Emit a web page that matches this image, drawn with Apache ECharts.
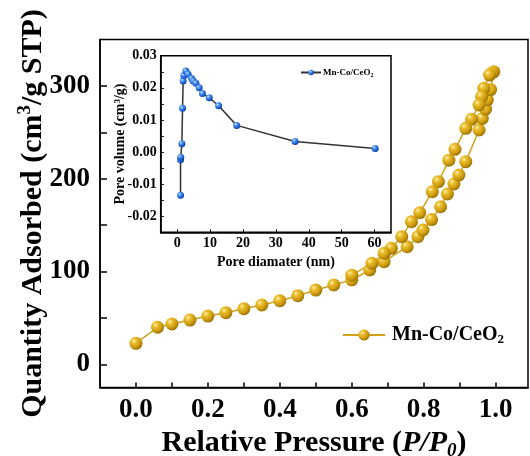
<!DOCTYPE html>
<html><head><meta charset="utf-8">
<script src="https://cdn.jsdelivr.net/npm/echarts@6/dist/echarts.min.js"></script>
<style>html,body{margin:0;padding:0;background:#fff}#c{width:530px;height:456px}</style>
</head><body><div id="c"></div>
<script>
// Adsorption branch (P/P0, quantity cm3/g STP)
const adsP = [0.0, 0.06, 0.10, 0.15, 0.20, 0.25, 0.30, 0.35, 0.40, 0.45, 0.50, 0.55, 0.60, 0.65, 0.69, 0.754, 0.784, 0.798, 0.822, 0.847, 0.866, 0.884, 0.898, 0.917, 0.954, 0.963, 0.972, 0.977, 0.986, 0.995];
const adsQ = [22.6, 39.9, 43.4, 47.7, 52.0, 55.6, 59.9, 63.9, 68.5, 73.9, 80.0, 85.5, 91.0, 101.6, 110.6, 126.7, 137.5, 144.7, 156.0, 169.8, 183.5, 194.3, 204.0, 218.3, 252.5, 265.0, 275.0, 285.0, 296.0, 315.3];
// Desorption branch
const desP = [0.99, 0.983, 0.967, 0.961, 0.954, 0.933, 0.917, 0.887, 0.870, 0.841, 0.824, 0.789, 0.766, 0.739, 0.710, 0.690, 0.656, 0.600];
const desQ = [314.0, 311.7, 297.4, 288.4, 279.4, 264.0, 254.3, 231.7, 220.0, 196.8, 186.0, 163.4, 153.7, 137.5, 125.0, 119.6, 108.8, 96.0];
// Inset: pore size distribution
const poreD = [1.03, 1.03, 1.1, 1.43, 1.64, 1.83, 2.04, 2.65, 3.35, 4.4, 4.9, 5.7, 6.7, 7.7, 9.75, 12.6, 18.1, 35.85, 60.2];
const poreV = [-0.0135, -0.0024, -0.0016, 0.0026, 0.0136, 0.0221, 0.0238, 0.0252, 0.0242, 0.0229, 0.0221, 0.0214, 0.0200, 0.0182, 0.0169, 0.0144, 0.0083, 0.0033, 0.0011];
// Ticks
const xTickValues = [0.0, 0.1, 0.2, 0.3, 0.4, 0.5, 0.6, 0.7, 0.8, 0.9, 1.0];
const xLabelValues = [0.0, 0.2, 0.4, 0.6, 0.8, 1.0];
const yTickValues = [0, 50, 100, 150, 200, 250, 300];
const yLabelValues = [0, 100, 200, 300];
const insetXLabels = [0, 10, 20, 30, 40, 50, 60];
const insetYLabels = [-0.02, -0.01, 0.0, 0.01, 0.02, 0.03];
const insetYTicks = [-0.02, -0.015, -0.01, -0.005, 0.0, 0.005, 0.01, 0.015, 0.02, 0.025, 0.03];

const FF = '"Liberation Serif", "Times New Roman", serif';
const chart = echarts.init(document.getElementById('c'), null, {renderer: 'canvas'});

const mainData = adsP.map((p, i) => [p, adsQ[i]]).concat(desP.map((p, i) => [p, desQ[i]]));
const poreData = poreD.map((d, i) => [d, poreV[i]]);

const gold = new echarts.graphic.RadialGradient(0.35, 0.32, 0.7, [
  {offset: 0, color: '#fff4c4'}, {offset: 0.25, color: '#eec232'},
  {offset: 0.7, color: '#cc9a0e'}, {offset: 1, color: '#9a7204'}]);
const blue = new echarts.graphic.RadialGradient(0.35, 0.32, 0.7, [
  {offset: 0, color: '#e6f1ff'}, {offset: 0.25, color: '#5c9ff2'},
  {offset: 0.7, color: '#1f63d6'}, {offset: 1, color: '#0e3f98'}]);

const richBig = {
  a: {fontSize: 30, fontWeight: 'bold', fontFamily: FF, color: '#000'},
  i: {fontSize: 30, fontWeight: 'bold', fontStyle: 'italic', fontFamily: FF, color: '#000'},
  s: {fontSize: 19, fontWeight: 'bold', fontStyle: 'italic', fontFamily: FF, color: '#000', verticalAlign: 'bottom', padding: [16, 0, 0, 0]},
  u: {fontSize: 19, fontWeight: 'bold', fontFamily: FF, color: '#000', verticalAlign: 'top', padding: [0, 0, 16, 0]}
};
const richSmall = {
  a: {fontSize: 14, fontWeight: 'bold', fontFamily: FF, color: '#000'},
  u: {fontSize: 9, fontWeight: 'bold', fontFamily: FF, color: '#000', verticalAlign: 'top', padding: [0, 0, 7, 0]}
};

chart.setOption({
  backgroundColor: '#fff',
  animation: false,
  grid: [
    {left: 100, top: 39.5, right: 2, bottom: 68.5, outerBoundsMode: 'none', containLabel: false, show: true, borderColor: '#000', borderWidth: 1.5, backgroundColor: 'transparent'},
    {left: 160.7, top: 55.7, width: 230.3, height: 176.6, outerBoundsMode: 'none', containLabel: false, show: true, borderColor: '#000', borderWidth: 1.5, backgroundColor: '#fff'}
  ],
  legend: [
    {data: ['Mn-Co/CeO2'], left: 337, top: 320, itemWidth: 42, itemHeight: 14, itemGap: 0,
     formatter: () => '{a|Mn-Co/CeO}{s|2}',
     textStyle: {padding: [0, 0, 0, 2], rich: {
       a: {fontSize: 20, fontWeight: 'bold', fontFamily: FF, color: '#000'},
       s: {fontSize: 13, fontWeight: 'bold', fontFamily: FF, color: '#000', verticalAlign: 'bottom', padding: [10, 0, 0, 0]}}}},
    {data: ['Mn-Co/CeO2 pore'], left: 295, top: 63, itemWidth: 20, itemHeight: 7, itemGap: 0,
     formatter: () => '{a|Mn-Co/CeO}{s|2}',
     textStyle: {padding: [0, 0, 0, -3], rich: {
       a: {fontSize: 9, fontWeight: 'bold', fontFamily: FF, color: '#000'},
       s: {fontSize: 6, fontWeight: 'bold', fontFamily: FF, color: '#000', verticalAlign: 'bottom', padding: [5, 0, 0, 0]}}}}
  ],
  xAxis: [
    {type: 'value', gridIndex: 0, min: -0.1, max: 1.09,
     name: '{a|Relative Pressure (}{i|P/P}{s|0}{a|)}', nameLocation: 'middle', nameGap: 37,
     nameTextStyle: {rich: richBig},
     axisLine: {show: true, onZero: false, lineStyle: {color: '#000', width: 1.5}},
     axisTick: {show: true, inside: true, length: 5, customValues: xTickValues, lineStyle: {color: '#000', width: 1.5}},
     axisLabel: {customValues: xLabelValues, formatter: v => v.toFixed(1), margin: 9, fontSize: 27, fontWeight: 'bold', fontFamily: FF, color: '#000'},
     splitLine: {show: false}},
    {type: 'value', gridIndex: 1, min: -5, max: 65,
     name: 'Pore diamater (nm)', nameLocation: 'middle', nameGap: 23,
     nameTextStyle: {fontSize: 14, fontWeight: 'bold', fontFamily: FF, color: '#000'},
     axisLine: {show: true, onZero: false, lineStyle: {color: '#000', width: 1.5}},
     axisTick: {show: true, inside: true, length: 3, customValues: insetXLabels, lineStyle: {color: '#000', width: 1}},
     axisLabel: {customValues: insetXLabels, margin: 4, fontSize: 14, fontWeight: 'bold', fontFamily: FF, color: '#000'},
     splitLine: {show: false}}
  ],
  yAxis: [
    {type: 'value', gridIndex: 0, min: -25, max: 350,
     name: '{a|Quantity Adsorbed (cm}{u|3}{a|/g STP)}', nameLocation: 'middle', nameGap: 49, nameRotate: 90, nameMoveOverlap: false,
     nameTextStyle: {rich: richBig},
     axisLine: {show: true, onZero: false, lineStyle: {color: '#000', width: 1.5}},
     axisTick: {show: true, inside: true, length: 7, customValues: yTickValues, lineStyle: {color: '#000', width: 1.5}},
     axisLabel: {customValues: yLabelValues, margin: 10, fontSize: 27, fontWeight: 'bold', fontFamily: FF, color: '#000'},
     splitLine: {show: false}},
    {type: 'value', gridIndex: 1, min: -0.025, max: 0.03,
     name: '{a|Pore volume (cm}{u|3}{a|/g)}', nameLocation: 'middle', nameGap: 32, nameRotate: 90, nameMoveOverlap: false,
     nameTextStyle: {rich: richSmall},
     axisLine: {show: true, onZero: false, lineStyle: {color: '#000', width: 1.5}},
     axisTick: {show: true, inside: true, length: 3, customValues: insetYTicks, lineStyle: {color: '#000', width: 1}},
     axisLabel: {customValues: insetYLabels, formatter: v => v.toFixed(2), margin: 4, fontSize: 14, fontWeight: 'bold', fontFamily: FF, color: '#000'},
     splitLine: {show: false}}
  ],
  series: [
    {name: 'Mn-Co/CeO2', type: 'line', xAxisIndex: 0, yAxisIndex: 0, data: mainData,
     symbol: 'circle', symbolSize: 13, showAllSymbol: true,
     itemStyle: {color: gold, borderWidth: 0},
     lineStyle: {color: '#d0a018', width: 1.5}, z: 3},
    {name: 'Mn-Co/CeO2 pore', type: 'line', xAxisIndex: 1, yAxisIndex: 1, data: poreData,
     symbol: 'circle', symbolSize: 7, showAllSymbol: true,
     itemStyle: {color: blue, borderWidth: 0},
     lineStyle: {color: '#333', width: 1.5}, z: 4}
  ]
});
</script></body></html>
